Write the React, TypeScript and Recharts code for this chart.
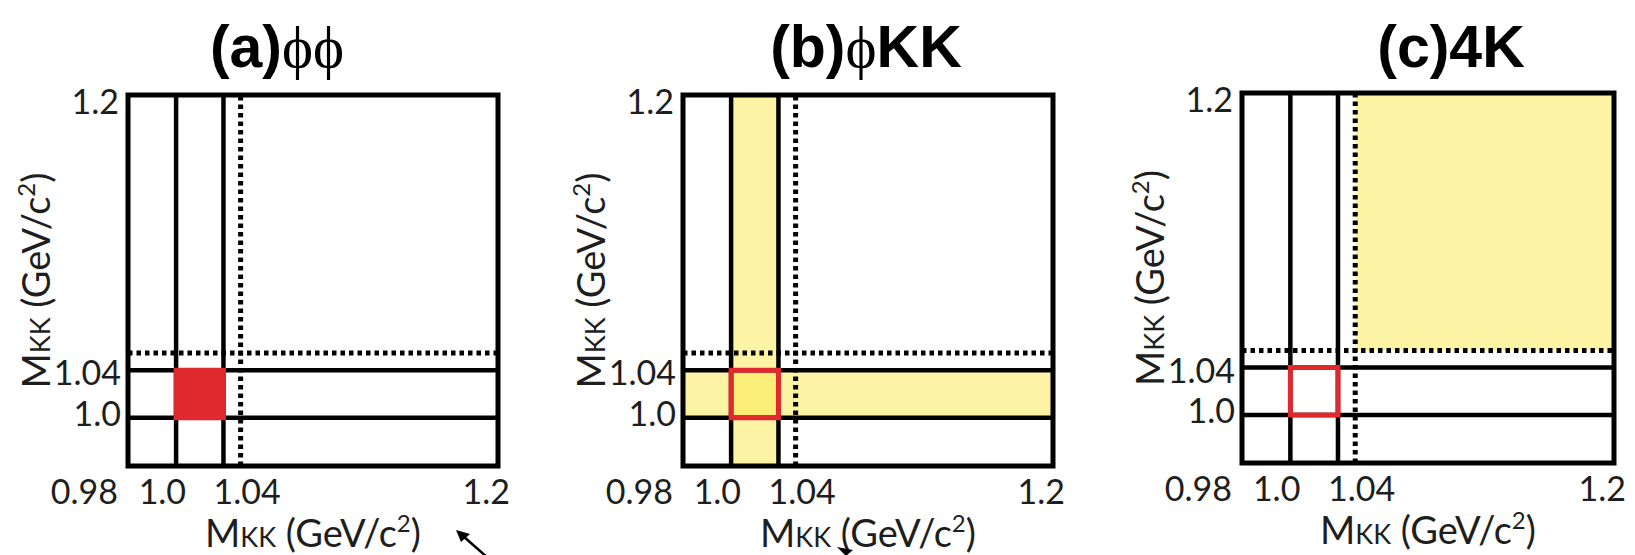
import React from "react";
import { ComposedChart, XAxis, YAxis, ReferenceArea, ReferenceLine, Label } from "recharts";

// invariant masses of the two K+K- pairs, GeV/c^2
const massRange = [0.98, 1.2];
const xTicks = [0.98, 1.0, 1.04, 1.2];
const xTickLabels = ["0.98", "1.0", "1.04", "1.2"];
const yTicks = [1.0, 1.04, 1.2];
const yTickLabels = ["1.0", "1.04", "1.2"];
const phiWindow = [1.0, 1.04];
const dottedCut = 1.05;

const panelTags = ["(a)", "(b)", "(c)"];
const panelModes = ["ϕϕ", "ϕKK", "4K"];

// the axis is drawn schematically: the phi window is blown up
const KNOTS = [0.98, 1.0, 1.04, 1.2];
const STOPS = [0, 0.13, 0.258, 1];

function schematicScale(knots: number[], stops: number[]): any {
  let dom = [knots[0], knots[knots.length - 1]];
  let rng = [0, 1];
  const scale: any = (v: number) => {
    let i = 0;
    while (i < knots.length - 2 && v > knots[i + 1]) i++;
    const t = (v - knots[i]) / (knots[i + 1] - knots[i]);
    const f = stops[i] + t * (stops[i + 1] - stops[i]);
    return rng[0] + f * (rng[1] - rng[0]);
  };
  scale.domain = (d?: number[]) => {
    if (d) { dom = [...d]; return scale; }
    return [...dom];
  };
  scale.range = (r?: number[]) => {
    if (r) { rng = [...r]; return scale; }
    return [...rng];
  };
  scale.copy = () => schematicScale(knots, stops).domain(dom).range(rng);
  scale.ticks = () => [...knots];
  scale.tickFormat = () => (v: number) => String(v);
  return scale;
}

const xScale = schematicScale(KNOTS, STOPS);
const yScale = schematicScale(KNOTS, STOPS);

const CHART_W = 545;
const CHART_H = 555;
const YAXIS_W = 60;
const XAXIS_H = 40;

const PANELS = [
  { left: 0, frame: { l: 128, r: 498, t: 95, b: 466 }, titleX: 277 },
  { left: 545, frame: { l: 683, r: 1053, t: 95, b: 466 }, titleX: 866 },
  { left: 1090, frame: { l: 1242, r: 1614, t: 93, b: 463 }, titleX: 1451 },
];

const INK = "#1e1e1e";
const RED = "#e0282f";
const YELLOW = "#f9ea4a";
const LABEL_FONT = "Lato, 'Noto Sans', sans-serif";

const X_TICK_STYLE = [
  { anchor: "end", dx: -10 },
  { anchor: "end", dx: 10 },
  { anchor: "start", dx: -10 },
  { anchor: "end", dx: 12 },
];
const Y_TICK_STYLE = [
  { dx: -7, dy: 8 },
  { dx: -7, dy: 15 },
  { dx: -9, dy: 19 },
];

const XTick = (props: any) => {
  const s = X_TICK_STYLE[props.index];
  return (
    <text x={props.x + s.dx} y={props.y + 38} textAnchor={s.anchor} fontFamily={LABEL_FONT} fontSize={34} fill={INK}>
      {xTickLabels[props.index]}
    </text>
  );
};

const YTick = (props: any) => {
  const s = Y_TICK_STYLE[props.index];
  return (
    <text x={props.x + s.dx} y={props.y + s.dy} textAnchor="end" fontFamily={LABEL_FONT} fontSize={34} fill={INK}>
      {yTickLabels[props.index]}
    </text>
  );
};

function MassTitle({ x, y, rotate }: { x: number; y: number; rotate?: boolean }) {
  return (
    <text
      x={x}
      y={y}
      textAnchor="middle"
      transform={rotate ? `rotate(-90 ${x} ${y})` : undefined}
      fontFamily={LABEL_FONT}
      fontSize={38}
      fill={INK}
    >
      <tspan>M</tspan>
      <tspan fontSize={27}>KK</tspan>
      <tspan> (GeV/c</tspan>
      <tspan fontSize={24} dy={-15}>2</tspan>
      <tspan dy={15}>)</tspan>
    </text>
  );
}

// highlighted regions for each final state
function bandsFor(idx: number) {
  if (idx === 1) {
    return [
      { x1: phiWindow[0], x2: phiWindow[1], y1: massRange[0], y2: massRange[1] },
      { x1: massRange[0], x2: massRange[1], y1: phiWindow[0], y2: phiWindow[1] },
    ];
  }
  if (idx === 2) {
    return [{ x1: dottedCut, x2: massRange[1], y1: dottedCut, y2: massRange[1] }];
  }
  return [];
}

function Panel({ idx }: { idx: number }) {
  const p = PANELS[idx];
  const f = p.frame;
  const margin = {
    left: f.l - p.left - YAXIS_W,
    top: f.t,
    right: p.left + CHART_W - f.r,
    bottom: CHART_H - f.b - XAXIS_H,
  };
  const cx = (f.l + f.r) / 2 - p.left;
  const cy = (f.t + f.b) / 2;
  return (
    <div style={{ position: "absolute", left: p.left, top: 0 }}>
      <ComposedChart width={CHART_W} height={CHART_H} margin={margin}>
        <XAxis
          type="number"
          dataKey="x"
          domain={massRange}
          scale={xScale}
          ticks={xTicks}
          interval={0}
          tick={XTick}
          tickSize={0}
          tickMargin={0}
          axisLine={false}
          tickLine={false}
          height={XAXIS_H}
          allowDataOverflow
        >
          <Label content={() => <MassTitle x={cx} y={f.b + 81} />} />
        </XAxis>
        <YAxis
          type="number"
          dataKey="y"
          domain={massRange}
          scale={yScale}
          ticks={yTicks}
          interval={0}
          tick={YTick}
          tickSize={0}
          tickMargin={0}
          axisLine={false}
          tickLine={false}
          width={YAXIS_W}
          allowDataOverflow
        >
          <Label content={() => <MassTitle x={f.l - p.left - 78} y={cy} rotate />} />
        </YAxis>
        {bandsFor(idx).map((b, i) => (
          <ReferenceArea
            key={"band" + i}
            x1={b.x1}
            x2={b.x2}
            y1={b.y1}
            y2={b.y2}
            fill={YELLOW}
            fillOpacity={0.5}
            stroke="none"
            ifOverflow="visible"
            zIndex={100}
          />
        ))}
        {phiWindow.map((v) => (
          <ReferenceLine key={"vx" + v} x={v} stroke="#000" strokeWidth={4.5} ifOverflow="visible" zIndex={400} />
        ))}
        {phiWindow.map((v) => (
          <ReferenceLine key={"hy" + v} y={v} stroke="#000" strokeWidth={4.5} ifOverflow="visible" zIndex={400} />
        ))}
        <ReferenceLine x={dottedCut} stroke="#000" strokeWidth={5} strokeDasharray="4.5 4" ifOverflow="visible" zIndex={410} />
        <ReferenceLine y={dottedCut} stroke="#000" strokeWidth={5} strokeDasharray="4.5 4" ifOverflow="visible" zIndex={410} />
        <ReferenceArea
          x1={massRange[0]}
          x2={massRange[1]}
          y1={massRange[0]}
          y2={massRange[1]}
          fill="none"
          stroke="#000"
          strokeWidth={5}
          ifOverflow="visible"
          zIndex={450}
        />
        <ReferenceArea
          x1={phiWindow[0]}
          x2={phiWindow[1]}
          y1={phiWindow[0]}
          y2={phiWindow[1]}
          fill={idx === 0 ? RED : "none"}
          fillOpacity={1}
          stroke={RED}
          strokeWidth={5}
          ifOverflow="visible"
          zIndex={700}
        />
      </ComposedChart>
    </div>
  );
}

function Title({ idx }: { idx: number }) {
  const parts = (panelTags[idx] + panelModes[idx]).split(/(ϕ)/).filter(Boolean);
  return (
    <div
      style={{
        position: "absolute",
        left: PANELS[idx].titleX,
        top: 18,
        transform: "translateX(-50%)",
        whiteSpace: "nowrap",
        fontSize: 59,
        lineHeight: "59px",
        color: "#000",
      }}
    >
      {parts.map((s, i) =>
        s === "ϕ" ? (
          <span key={i} style={{ fontFamily: "'Liberation Serif', serif", fontWeight: 400 }}>{s}</span>
        ) : (
          <span key={i} style={{ fontFamily: "'Liberation Sans', Arial, sans-serif", fontWeight: 700 }}>{s}</span>
        )
      )}
    </div>
  );
}

export default function App() {
  return (
    <div style={{ position: "absolute", left: 0, top: 0, width: 1635, height: 555, background: "#fff", overflow: "hidden" }}>
      {PANELS.map((_, i) => (
        <Panel key={i} idx={i} />
      ))}
      {PANELS.map((_, i) => (
        <Title key={"t" + i} idx={i} />
      ))}
      <svg width={1635} height={555} style={{ position: "absolute", left: 0, top: 0, pointerEvents: "none" }}>
        <line x1={488} y1={558} x2={463} y2={536} stroke="#000" strokeWidth={2.5} />
        <polygon points="456,530 470,534 461,542" fill="#000" />
        <polygon points="837,547 853,550 846,556" fill="#000" />
      </svg>
    </div>
  );
}
